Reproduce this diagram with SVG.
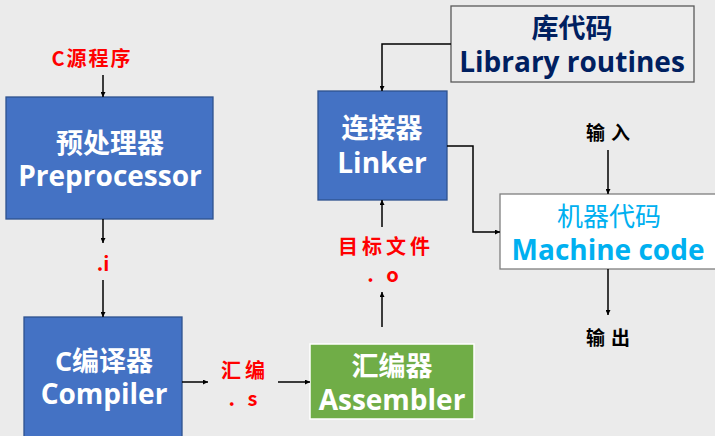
<svg xmlns="http://www.w3.org/2000/svg" width="715" height="436" viewBox="0 0 715 436">
<style>
.bx{fill:#4472C4;stroke:#2F528F;stroke-width:1.3}
.wt{fill:#fff;font-family:"Open Sans","Noto Sans CJK SC",sans-serif;font-weight:700;text-anchor:middle}
.cn{font-family:"Noto Sans CJK SC",sans-serif;font-weight:700;text-anchor:middle}
.red{fill:#FF0000;font-family:"Noto Sans CJK SC",sans-serif;font-weight:700;text-anchor:middle;letter-spacing:4px}
.ln{fill:none;stroke:#000;stroke-width:1.5}
</style>
<defs>
<marker id="ah" viewBox="0 0 10 10" refX="10" refY="5" markerWidth="5" markerHeight="5" orient="auto" markerUnits="userSpaceOnUse">
<path d="M0,0 L10,5 L0,10 z" fill="#000"/>
</marker>
</defs>
<rect width="715" height="436" fill="#EBEBEB"/>
<g id="labels">
<text class="red" x="92" y="66" font-size="20" style="letter-spacing:2px">C源程序</text>
<text class="red" x="103" y="271" font-size="20" style="letter-spacing:0">.i</text>
<text class="red" x="245" y="378" font-size="20">汇编</text>
<text class="red" x="245" y="406" font-size="20">. s</text>
<text class="red" x="386" y="254" font-size="20">目标文件</text>
<text class="red" x="385" y="282" font-size="20">. o</text>
<text class="cn" x="611" y="140" font-size="19" fill="#000" style="letter-spacing:6px">输入</text>
<text class="cn" x="611" y="345" font-size="19" fill="#000" style="letter-spacing:6px">输出</text>
</g>
<g id="preprocessor">
<rect class="bx" x="6" y="97" width="207" height="122"/>
<text class="wt" x="110" y="153" font-size="27">预处理器</text>
<text class="wt" x="110" y="186" font-size="28">Preprocessor</text>
</g>
<g id="compiler">
<rect class="bx" x="24" y="317" width="158" height="125"/>
<text class="wt" x="104" y="371" font-size="27">C编译器</text>
<text class="wt" x="104" y="404" font-size="28">Compiler</text>
</g>
<g id="assembler">
<rect x="310" y="344" width="164" height="75" fill="#70AD47" stroke="#fff" stroke-width="1.5"/>
<text class="wt" x="392" y="376" font-size="27">汇编器</text>
<text class="wt" x="392" y="410" font-size="28">Assembler</text>
</g>
<g id="linker">
<rect class="bx" x="318" y="91" width="129" height="109"/>
<text class="wt" x="382" y="138" font-size="27">连接器</text>
<text class="wt" x="382" y="173" font-size="28">Linker</text>
</g>
<g id="library">
<rect x="451" y="6" width="243" height="76" fill="#EDEDED" stroke="#595959" stroke-width="1.3"/>
<text class="cn" x="572" y="38" font-size="27" fill="#002060">库代码</text>
<text class="wt" x="572" y="72" font-size="28" style="fill:#002060">Library routines</text>
</g>
<g id="machine">
<rect x="500" y="194" width="222" height="75" fill="#fff" stroke="#7F7F7F" stroke-width="1.3"/>
<text x="609" y="226" font-size="26" fill="#00B0F0" text-anchor="middle" font-family="Noto Sans CJK SC, sans-serif">机器代码</text>
<text class="wt" x="608" y="260" font-size="28" style="fill:#00B0F0">Machine code</text>
</g>
<g id="connectors">
<path class="ln" d="M103,75 V97" marker-end="url(#ah)"/>
<path class="ln" d="M103,219 V243" marker-end="url(#ah)"/>
<path class="ln" d="M103,280 V317" marker-end="url(#ah)"/>
<path class="ln" d="M182,382 H208" marker-end="url(#ah)"/>
<path class="ln" d="M278,382 H310" marker-end="url(#ah)"/>
<path class="ln" d="M382,327 V292" marker-end="url(#ah)"/>
<path class="ln" d="M382,227 V200" marker-end="url(#ah)"/>
<path class="ln" d="M451,44 H382 V91" marker-end="url(#ah)"/>
<path class="ln" d="M447,146 H473 V232 H500" marker-end="url(#ah)"/>
<path class="ln" d="M608,150 V194" marker-end="url(#ah)"/>
<path class="ln" d="M608,269 V315" marker-end="url(#ah)"/>
</g>
</svg>
